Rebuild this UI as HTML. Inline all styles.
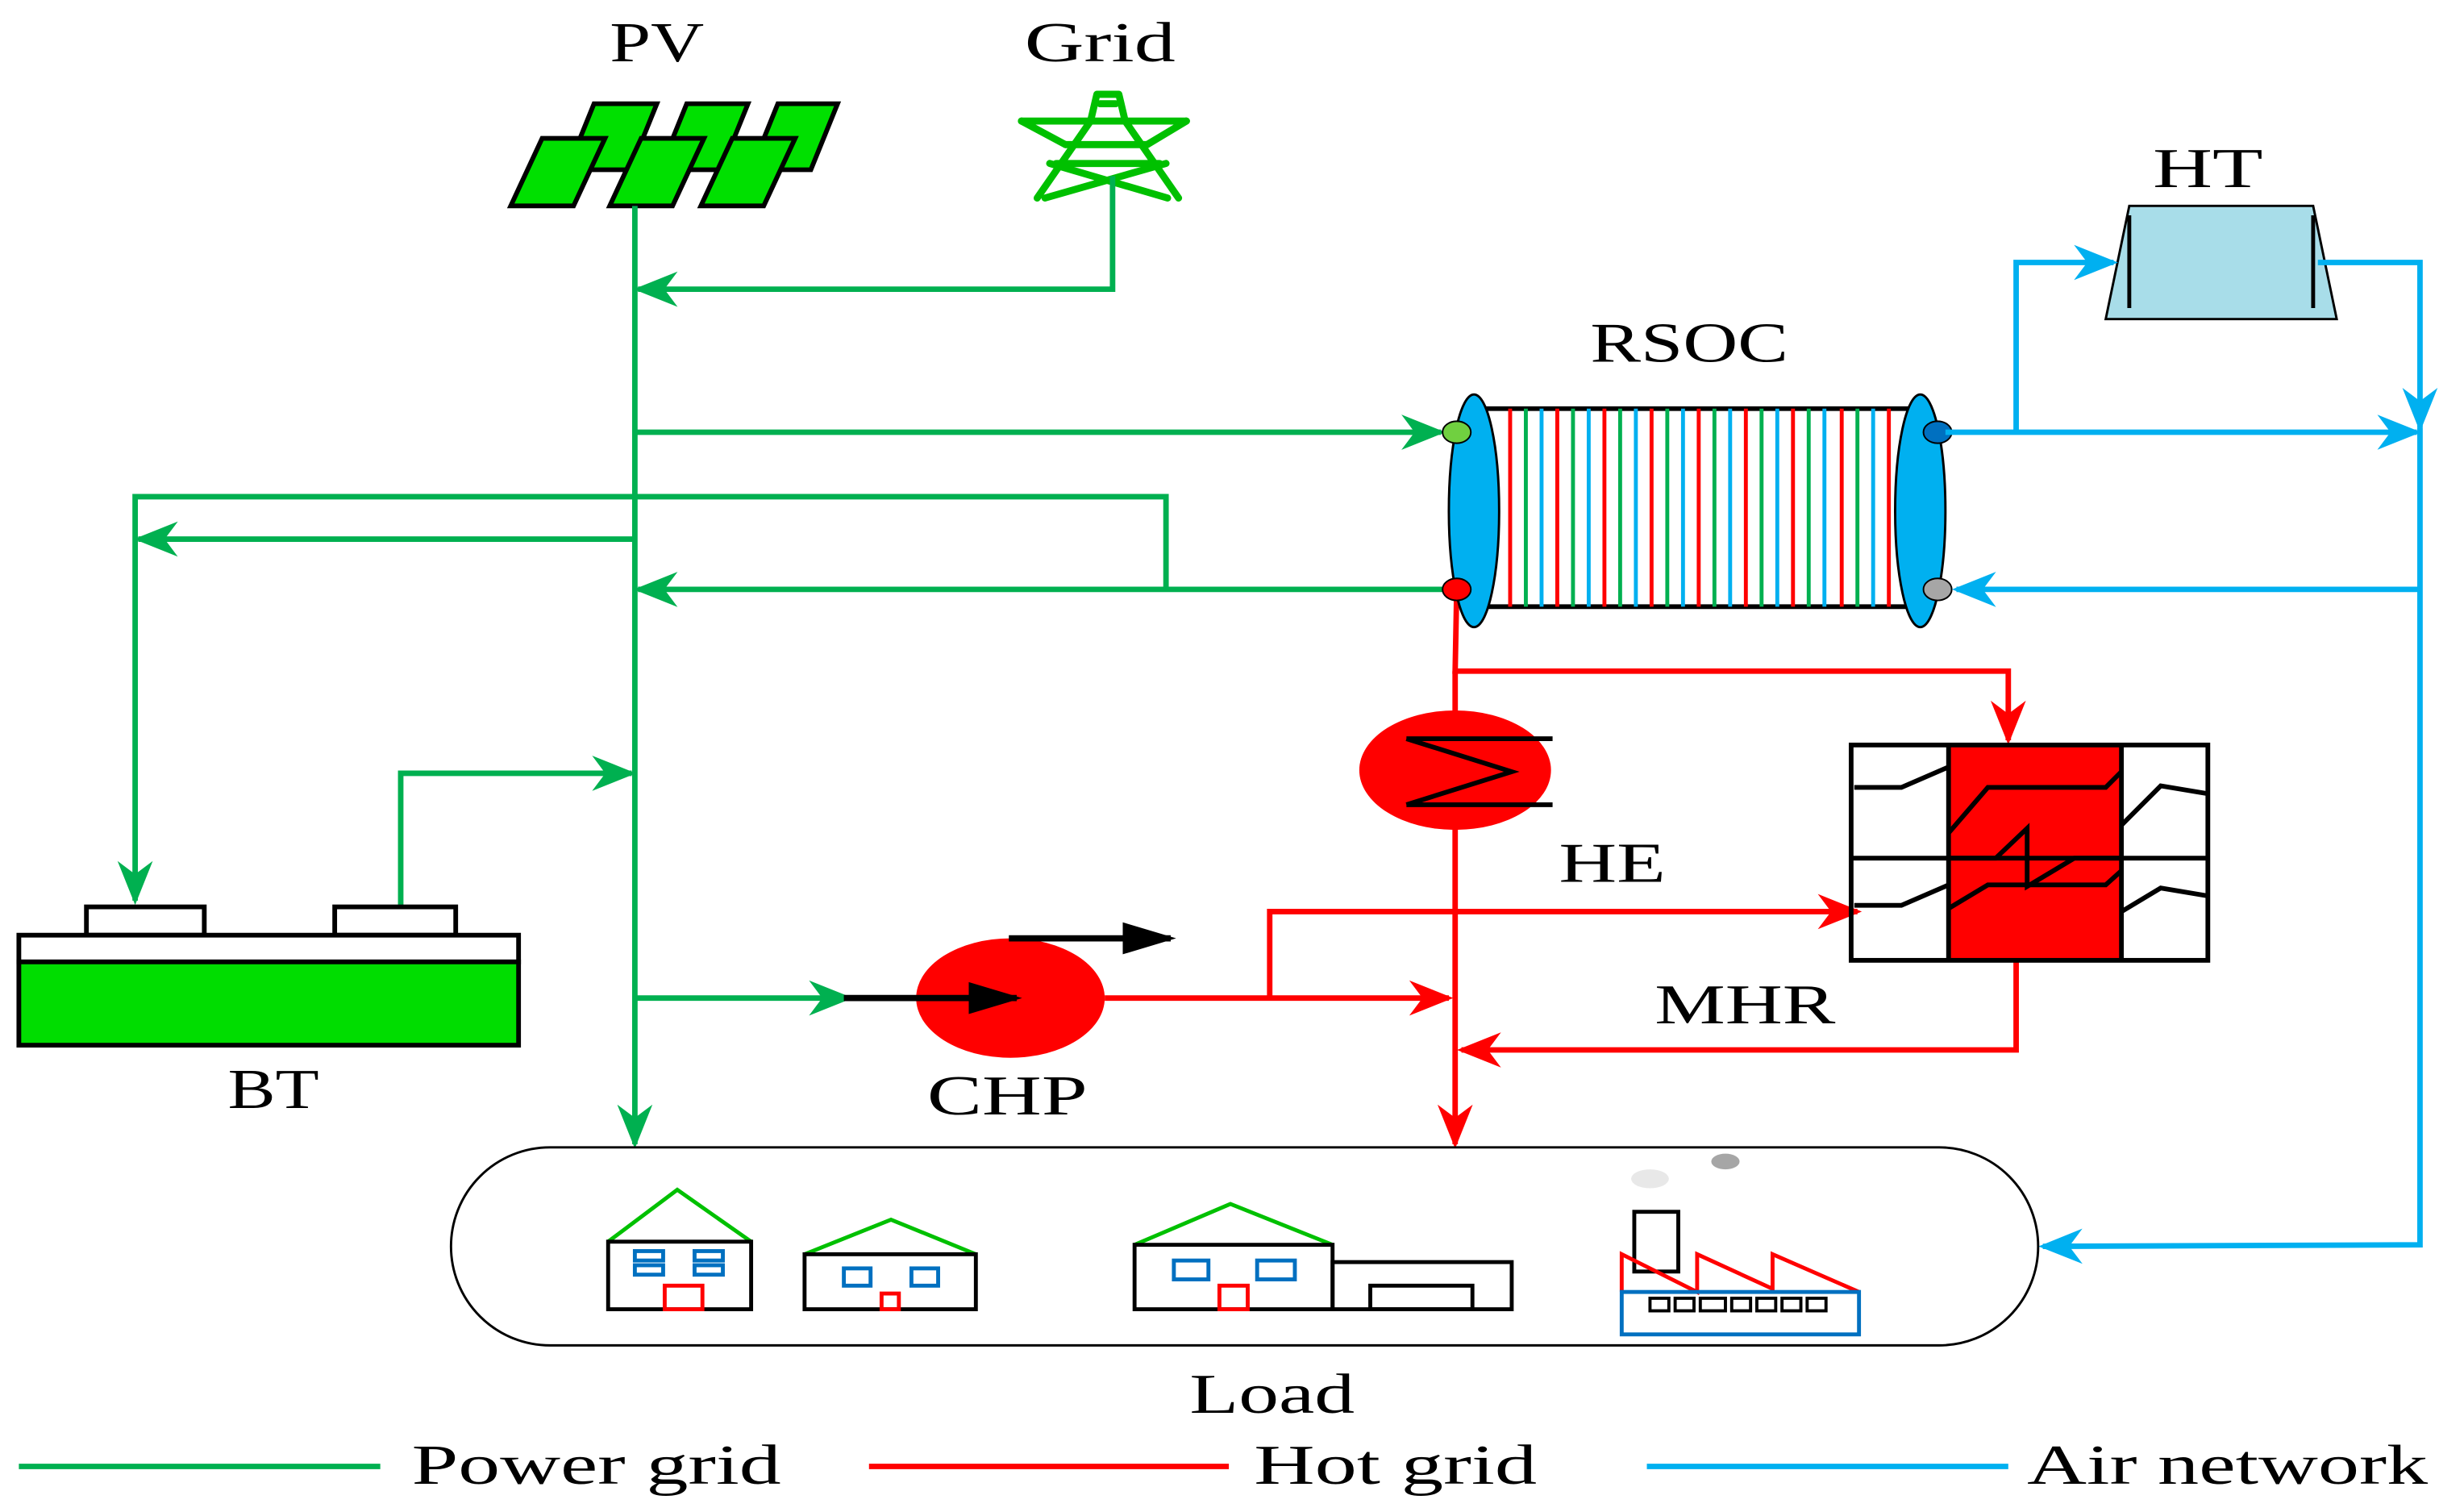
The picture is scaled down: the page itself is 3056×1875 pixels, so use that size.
<!DOCTYPE html>
<html><head><meta charset="utf-8"><style>
html,body{margin:0;padding:0;background:#fff;}
svg{display:block;}
text{font-family:"Liberation Serif",serif;fill:#000;}
</style></head><body>
<svg width="3056" height="1875" viewBox="0 0 1568 962" preserveAspectRatio="none" xmlns="http://www.w3.org/2000/svg">
<defs>
<marker id="agb" viewBox="0 0 10 10" refX="9" refY="5" markerWidth="28" markerHeight="28" markerUnits="userSpaceOnUse" orient="auto"><path d="M0,1 L10,5 L0,9 L3,5z" fill="#00b050"/></marker>
<marker id="ar" viewBox="0 0 10 10" refX="9" refY="5" markerWidth="28" markerHeight="28" markerUnits="userSpaceOnUse" orient="auto"><path d="M0,1 L10,5 L0,9 L3,5z" fill="#ff0000"/></marker>
<marker id="ab" viewBox="0 0 10 10" refX="9" refY="5" markerWidth="28" markerHeight="28" markerUnits="userSpaceOnUse" orient="auto"><path d="M0,1 L10,5 L0,9 L3,5z" fill="#00b0f0"/></marker>
<marker id="ak" viewBox="0 0 10 10" refX="9" refY="5" markerWidth="34" markerHeight="34" markerUnits="userSpaceOnUse" orient="auto"><path d="M0,2 L10,5 L0,8z" fill="#000"/></marker>
</defs>

<!-- labels -->
<g font-size="36" lengthAdjust="spacingAndGlyphs">
<text x="388" y="39" textLength="60" lengthAdjust="spacingAndGlyphs">PV</text>
<text x="652" y="39" textLength="96" lengthAdjust="spacingAndGlyphs">Grid</text>
<text x="1370" y="119" textLength="70" lengthAdjust="spacingAndGlyphs">HT</text>
<text x="1012" y="230" textLength="126" lengthAdjust="spacingAndGlyphs">RSOC</text>
<text x="992" y="561" textLength="68" lengthAdjust="spacingAndGlyphs">HE</text>
<text x="1053" y="651" textLength="115" lengthAdjust="spacingAndGlyphs">MHR</text>
<text x="590" y="709" textLength="102" lengthAdjust="spacingAndGlyphs">CHP</text>
<text x="145" y="705" textLength="58" lengthAdjust="spacingAndGlyphs">BT</text>
<text x="757" y="899" textLength="105" lengthAdjust="spacingAndGlyphs">Load</text>
<text x="262" y="944" textLength="235" lengthAdjust="spacingAndGlyphs">Power grid</text>
<text x="798" y="944" textLength="180" lengthAdjust="spacingAndGlyphs">Hot grid</text>
<text x="1290" y="944" textLength="255" lengthAdjust="spacingAndGlyphs">Air network</text>
</g>

<!-- PV panels -->
<g fill="#00e000" stroke="#000" stroke-width="3">
<polygon points="361,108 378,66 418,66 401,108"/>
<polygon points="420,108 437,66 476,66 459,108"/>
<polygon points="478,108 495,66 533,66 516,108"/>
<polygon points="325,131 345,88 385,88 365,131"/>
<polygon points="388,131 408,88 448,88 428,131"/>
<polygon points="446,131 466,88 506,88 486,131"/>
</g>

<!-- Grid tower -->
<g fill="none" stroke="#00c000" stroke-width="4.5" stroke-linejoin="round" stroke-linecap="round">
<polyline points="694,77 698,60 712,60 716,77"/>
<line x1="700" y1="66" x2="710" y2="66"/>
<line x1="650" y1="77" x2="755" y2="77"/>
<line x1="650" y1="77" x2="678" y2="92"/>
<line x1="755" y1="77" x2="730" y2="92"/>
<line x1="678" y1="92" x2="730" y2="92"/>
<line x1="694" y1="77" x2="660" y2="126"/>
<line x1="716" y1="77" x2="750" y2="126"/>
<line x1="668" y1="104" x2="743" y2="126"/>
<line x1="742" y1="104" x2="665" y2="126"/>
<line x1="672" y1="104" x2="738" y2="104"/>
</g>

<!-- Green power lines -->
<g fill="none" stroke="#00b050" stroke-width="3.5">
<line x1="404" y1="131" x2="404" y2="728" marker-end="url(#agb)"/>
<polyline points="708,112 708,184 406,184" marker-end="url(#agb)"/>
<line x1="404" y1="275" x2="917" y2="275" marker-end="url(#agb)"/>
<polyline points="742,375 742,316 86,316 86,573" marker-end="url(#agb)"/>
<line x1="404" y1="343" x2="88" y2="343" marker-end="url(#agb)"/>
<line x1="920" y1="375" x2="406" y2="375" marker-end="url(#agb)"/>
<polyline points="255,577 255,492 402,492" marker-end="url(#agb)"/>
<line x1="404" y1="635" x2="540" y2="635" marker-end="url(#agb)"/>
</g>

<!-- BT -->
<g stroke="#000" stroke-width="3">
<rect x="55" y="577" width="75" height="18" fill="#fff"/>
<rect x="213" y="577" width="77" height="18" fill="#fff"/>
<rect x="12" y="595" width="318" height="17" fill="#fff"/>
<rect x="12" y="612" width="318" height="53" fill="#00dd00"/>
</g>

<!-- CHP -->
<ellipse cx="643" cy="635" rx="60" ry="38" fill="#ff0000"/>
<line x1="537" y1="635" x2="647" y2="635" stroke="#000" stroke-width="4" marker-end="url(#ak)"/>
<line x1="642" y1="597" x2="745" y2="597" stroke="#000" stroke-width="4" marker-end="url(#ak)"/>

<!-- Red hot lines -->
<g fill="none" stroke="#ff0000" stroke-width="3.5">
<line x1="703" y1="635" x2="922" y2="635" marker-end="url(#ar)"/>
<polyline points="808,635 808,580 1182,580" marker-end="url(#ar)"/>
<polyline points="927,375 926,427 1278,427 1278,471" marker-end="url(#ar)"/>
<line x1="926" y1="427" x2="926" y2="728" marker-end="url(#ar)"/>
<polyline points="1283,610 1283,668 930,668" marker-end="url(#ar)"/>
</g>

<!-- HE -->
<ellipse cx="926" cy="490" rx="61" ry="38" fill="#ff0000"/>
<g fill="none" stroke="#000" stroke-width="3">
<line x1="895" y1="470" x2="988" y2="470"/>
<polyline points="895,470 962,491 895,512"/>
<line x1="895" y1="512" x2="988" y2="512"/>
</g>

<!-- MHR -->
<rect x="1240" y="474" width="110" height="137" fill="#ff0000"/>
<g fill="none" stroke="#000" stroke-width="3">
<rect x="1178" y="474" width="227" height="137"/>
<line x1="1240" y1="474" x2="1240" y2="611"/>
<line x1="1350" y1="474" x2="1350" y2="611"/>
<line x1="1178" y1="546" x2="1405" y2="546"/>
<polyline points="1180,501 1210,501 1240,488"/>
<polyline points="1180,576 1210,576 1240,563"/>
<polyline points="1240,530 1265,501 1340,501 1350,491"/>
<polyline points="1240,578 1265,563 1340,563 1350,554"/>
<polyline points="1240,546 1270,546 1290,527 1290,564 1320,546 1350,546"/>
<polyline points="1350,525 1375,500 1405,505"/>
<polyline points="1350,580 1375,565 1405,570"/>
</g>

<!-- RSOC -->
<g stroke="#000" stroke-width="3">
<line x1="945" y1="260" x2="1215" y2="260"/>
<line x1="945" y1="386" x2="1215" y2="386"/>
</g>
<g stroke-width="2.5">
<line x1="961" y1="260" x2="961" y2="386" stroke="#ff0000"/>
<line x1="971" y1="260" x2="971" y2="386" stroke="#00b050"/>
<line x1="981" y1="260" x2="981" y2="386" stroke="#00b0f0"/>
<line x1="991" y1="260" x2="991" y2="386" stroke="#ff0000"/>
<line x1="1001" y1="260" x2="1001" y2="386" stroke="#00b050"/>
<line x1="1011" y1="260" x2="1011" y2="386" stroke="#00b0f0"/>
<line x1="1021" y1="260" x2="1021" y2="386" stroke="#ff0000"/>
<line x1="1031" y1="260" x2="1031" y2="386" stroke="#00b050"/>
<line x1="1041" y1="260" x2="1041" y2="386" stroke="#00b0f0"/>
<line x1="1051" y1="260" x2="1051" y2="386" stroke="#ff0000"/>
<line x1="1061" y1="260" x2="1061" y2="386" stroke="#00b050"/>
<line x1="1071" y1="260" x2="1071" y2="386" stroke="#00b0f0"/>
<line x1="1081" y1="260" x2="1081" y2="386" stroke="#ff0000"/>
<line x1="1091" y1="260" x2="1091" y2="386" stroke="#00b050"/>
<line x1="1101" y1="260" x2="1101" y2="386" stroke="#00b0f0"/>
<line x1="1111" y1="260" x2="1111" y2="386" stroke="#ff0000"/>
<line x1="1121" y1="260" x2="1121" y2="386" stroke="#00b050"/>
<line x1="1131" y1="260" x2="1131" y2="386" stroke="#00b0f0"/>
<line x1="1141" y1="260" x2="1141" y2="386" stroke="#ff0000"/>
<line x1="1151" y1="260" x2="1151" y2="386" stroke="#00b050"/>
<line x1="1161" y1="260" x2="1161" y2="386" stroke="#00b0f0"/>
<line x1="1172" y1="260" x2="1172" y2="386" stroke="#ff0000"/>
<line x1="1182" y1="260" x2="1182" y2="386" stroke="#00b050"/>
<line x1="1192" y1="260" x2="1192" y2="386" stroke="#00b0f0"/>
<line x1="1202" y1="260" x2="1202" y2="386" stroke="#ff0000"/>
</g>
<ellipse cx="938" cy="325" rx="16" ry="74" fill="#00b0f0" stroke="#000" stroke-width="1.5"/>
<ellipse cx="1222" cy="325" rx="16" ry="74" fill="#00b0f0" stroke="#000" stroke-width="1.5"/>
<ellipse cx="927" cy="275" rx="9" ry="7" fill="#70d040" stroke="#000" stroke-width="1"/>
<ellipse cx="927" cy="375" rx="9" ry="7" fill="#ff0000" stroke="#000" stroke-width="1"/>
<ellipse cx="1233" cy="275" rx="9" ry="7" fill="#0070c0" stroke="#000" stroke-width="1"/>
<ellipse cx="1233" cy="375" rx="9" ry="7" fill="#a6a6a6" stroke="#000" stroke-width="1"/>

<!-- HT -->
<polygon points="1340,203 1355,131 1472,131 1487,203" fill="#a8dde9" stroke="#000" stroke-width="1.5"/>
<line x1="1355" y1="137" x2="1355" y2="196" stroke="#000" stroke-width="2.5"/>
<line x1="1472" y1="137" x2="1472" y2="196" stroke="#000" stroke-width="2.5"/>

<!-- Blue air lines -->
<g fill="none" stroke="#00b0f0" stroke-width="3.5">
<line x1="1238" y1="275" x2="1538" y2="275" marker-end="url(#ab)"/>
<polyline points="1283,275 1283,167 1345,167" marker-end="url(#ab)"/>
<polyline points="1475,167 1540,167 1540,272" marker-end="url(#ab)"/>
<polyline points="1540,272 1540,792 1300,793" marker-end="url(#ab)"/>
<line x1="1540" y1="375" x2="1245" y2="375" marker-end="url(#ab)"/>
</g>

<!-- Load -->
<rect x="287" y="730" width="1010" height="126" rx="63" ry="63" fill="none" stroke="#000" stroke-width="1.5"/>
<g stroke-width="2.5" fill="none">
<polyline points="387,790 431,757 478,790" stroke="#00c000"/>
<rect x="387" y="790" width="91" height="43" stroke="#000"/>
<rect x="404" y="796" width="18" height="6" stroke="#0070c0"/>
<rect x="404" y="805" width="18" height="6" stroke="#0070c0"/>
<rect x="442" y="796" width="18" height="6" stroke="#0070c0"/>
<rect x="442" y="805" width="18" height="6" stroke="#0070c0"/>
<rect x="423" y="818" width="24" height="15" stroke="#ff0000"/>

<polyline points="512,798 567,776 621,798" stroke="#00c000"/>
<rect x="512" y="798" width="109" height="35" stroke="#000"/>
<rect x="537" y="807" width="17" height="11" stroke="#0070c0"/>
<rect x="580" y="807" width="17" height="11" stroke="#0070c0"/>
<rect x="561" y="823" width="11" height="10" stroke="#ff0000"/>

<polyline points="722,792 783,766 848,792" stroke="#00c000"/>
<rect x="722" y="792" width="126" height="41" stroke="#000"/>
<rect x="848" y="803" width="114" height="30" stroke="#000"/>
<rect x="872" y="818" width="65" height="15" stroke="#000"/>
<rect x="747" y="802" width="22" height="12" stroke="#0070c0"/>
<rect x="800" y="802" width="24" height="12" stroke="#0070c0"/>
<rect x="776" y="818" width="18" height="15" stroke="#ff0000"/>

<rect x="1040" y="771" width="28" height="38" stroke="#000"/>
<polyline points="1032,822 1032,798 1080,822 1080,798 1128,820 1128,798 1183,822" stroke="#ff0000"/>
<rect x="1032" y="822" width="151" height="27" stroke="#0070c0"/>
<g stroke="#000" stroke-width="2">
<rect x="1050" y="826" width="12" height="8"/><rect x="1066" y="826" width="12" height="8"/>
<rect x="1082" y="826" width="16" height="8"/><rect x="1102" y="826" width="12" height="8"/>
<rect x="1118" y="826" width="12" height="8"/><rect x="1134" y="826" width="12" height="8"/>
<rect x="1150" y="826" width="12" height="8"/>
</g>
</g>
<ellipse cx="1050" cy="750" rx="12" ry="6" fill="#e8e8e8"/>
<ellipse cx="1098" cy="739" rx="9" ry="5" fill="#a6a6a6"/>

<!-- Legend -->
<g stroke-width="3.5">
<line x1="12" y1="933" x2="242" y2="933" stroke="#00b050"/>
<line x1="553" y1="933" x2="782" y2="933" stroke="#ff0000"/>
<line x1="1048" y1="933" x2="1278" y2="933" stroke="#00b0f0"/>
</g>
</svg>
</body></html>
